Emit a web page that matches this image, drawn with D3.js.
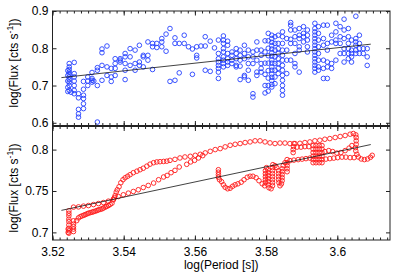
<!DOCTYPE html>
<html>
<head>
<meta charset="utf-8">
<script src="https://cdn.jsdelivr.net/npm/d3@7"></script>
<style>
  body { margin: 0; background: #fff; }
  svg { display: block; font-family: "Liberation Sans", Arial, sans-serif; }
</style>
</head>
<body>
<svg id="chart" width="395" height="272"></svg>
<script>
// axis ranges and tick labels
const periodDomain = [3.52, 3.6148];
const periodTicks = [3.52, 3.54, 3.56, 3.58, 3.6];
const topFluxDomain = [0.5927, 0.9];
const topFluxTicks = [0.6, 0.7, 0.8, 0.9];
const bottomFluxDomain = [0.6908, 0.8279];
const bottomFluxTicks = [0.7, 0.75, 0.8];

// linear fits (start, end)
const topFit = [[3.5225, 0.7212], [3.6094, 0.8110]];
const bottomFit = [[3.5225, 0.7266], [3.6094, 0.8061]];

// upper panel: log period -> list of log flux values seen at that period
const topCols = [
  [3.5243, [0.740, 0.727, 0.712, 0.695, 0.684]],
  [3.5247, [0.759, 0.750, 0.743, 0.736, 0.730, 0.723, 0.716, 0.709, 0.700, 0.687]],
  [3.5252, [0.682]],
  [3.5261, [0.762, 0.732, 0.723, 0.712, 0.700, 0.687, 0.678]],
  [3.5273, [0.678, 0.667, 0.636, 0.624, 0.615]],
  [3.5287, [0.711, 0.690, 0.674, 0.665, 0.651, 0.638]],
  [3.5299, [0.723, 0.712, 0.700]],
  [3.5311, [0.735, 0.719, 0.714, 0.709]],
  [3.5316, [0.712]],
  [3.5326, [0.748, 0.741, 0.700, 0.602]],
  [3.5339, [0.798, 0.788, 0.754, 0.714]],
  [3.5353, [0.806, 0.750, 0.727]],
  [3.5365, [0.746, 0.723, 0.711]],
  [3.5376, [0.772, 0.759, 0.746, 0.727]],
  [3.5390, [0.772, 0.768, 0.763]],
  [3.5404, [0.786, 0.777, 0.759, 0.741, 0.716]],
  [3.5418, [0.799, 0.777, 0.754]],
  [3.5432, [0.795, 0.759, 0.741]],
  [3.5444, [0.808, 0.763, 0.754]],
  [3.5455, [0.781, 0.777, 0.750]],
  [3.5468, [0.817, 0.781, 0.768]],
  [3.5481, [0.813, 0.804, 0.743]],
  [3.5493, [0.813, 0.802]],
  [3.5507, [0.826, 0.817, 0.804]],
  [3.5519, [0.838, 0.792]],
  [3.5530, [0.853, 0.711]],
  [3.5544, [0.828, 0.813, 0.714]],
  [3.5556, [0.813, 0.734]],
  [3.5570, [0.835, 0.813]],
  [3.5582, [0.804]],
  [3.5593, [0.798, 0.730]],
  [3.5605, [0.804, 0.781, 0.774]],
  [3.5617, [0.806]],
  [3.5629, [0.831, 0.806, 0.741]],
  [3.5643, [0.819, 0.738]],
  [3.5655, [0.801]],
  [3.5666, [0.822, 0.786, 0.772, 0.763, 0.754, 0.746, 0.736, 0.719]],
  [3.5680, [0.833, 0.822, 0.813, 0.799, 0.790, 0.777, 0.768, 0.759, 0.750]],
  [3.5692, [0.819, 0.808, 0.786, 0.772, 0.763, 0.754]],
  [3.5704, [0.790, 0.781, 0.768, 0.759]],
  [3.5716, [0.799, 0.786, 0.772, 0.754, 0.750]],
  [3.5727, [0.795, 0.781, 0.768, 0.752, 0.716]],
  [3.5739, [0.808, 0.786, 0.772, 0.727, 0.723]],
  [3.5750, [0.795, 0.777, 0.759, 0.741, 0.714]],
  [3.5763, [0.790, 0.777, 0.759, 0.678, 0.669]],
  [3.5774, [0.817, 0.795, 0.768, 0.736, 0.727]],
  [3.5786, [0.795, 0.781, 0.759, 0.746, 0.736]],
  [3.5797, [0.820, 0.790, 0.760, 0.730, 0.700, 0.680]],
  [3.5806, [0.840, 0.820, 0.800, 0.780, 0.760, 0.740, 0.720, 0.700, 0.685]],
  [3.5816, [0.835, 0.826, 0.816, 0.807, 0.798, 0.788, 0.779, 0.769, 0.760, 0.750, 0.741, 0.731, 0.722, 0.713, 0.703, 0.696]],
  [3.5825, [0.831, 0.813, 0.795, 0.777, 0.759, 0.741, 0.723, 0.705]],
  [3.5834, [0.835, 0.813, 0.799, 0.786, 0.772, 0.759, 0.746, 0.732]],
  [3.5846, [0.844, 0.831, 0.813, 0.795, 0.781, 0.768, 0.754, 0.741, 0.727, 0.714, 0.700, 0.687, 0.674]],
  [3.5858, [0.826, 0.795, 0.768, 0.732]],
  [3.5869, [0.869, 0.862, 0.849, 0.824, 0.813, 0.768]],
  [3.5881, [0.849, 0.831, 0.813, 0.786, 0.759, 0.750]],
  [3.5893, [0.853, 0.835, 0.826, 0.804, 0.795, 0.736]],
  [3.5905, [0.858, 0.840, 0.831, 0.817]],
  [3.5916, [0.849, 0.835, 0.822, 0.804, 0.790]],
  [3.5937, [0.867, 0.853, 0.844, 0.835, 0.826, 0.817, 0.808, 0.799, 0.790, 0.781, 0.772, 0.763, 0.754, 0.746, 0.736]],
  [3.5947, [0.858, 0.840, 0.822, 0.804, 0.786, 0.768, 0.750, 0.741]],
  [3.5961, [0.862, 0.826, 0.808, 0.768, 0.746, 0.719]],
  [3.5972, [0.862, 0.813, 0.795, 0.763, 0.750, 0.719]],
  [3.5984, [0.835, 0.817, 0.759, 0.746]],
  [3.5996, [0.867, 0.844, 0.822, 0.813, 0.768]],
  [3.6008, [0.858, 0.831, 0.813, 0.786]],
  [3.6019, [0.878, 0.849, 0.826, 0.799, 0.786, 0.763]],
  [3.6031, [0.853, 0.831, 0.813, 0.799, 0.786, 0.772]],
  [3.6040, [0.822, 0.795, 0.786, 0.777, 0.763]],
  [3.6052, [0.886, 0.826, 0.817, 0.808, 0.795, 0.786]],
  [3.6062, [0.835, 0.813, 0.799, 0.786]],
  [3.6073, [0.799, 0.786]],
  [3.6084, [0.799, 0.777, 0.754]]
];

// lower panel: the looping track, [log period, log flux]
const bottomPoints = [
  // start columns
  [3.5244, 0.700], [3.5244, 0.704],
  [3.5246, 0.699], [3.5246, 0.702], [3.5246, 0.705], [3.5246, 0.709], [3.5246, 0.713],
  [3.5246, 0.716], [3.5246, 0.720], [3.5246, 0.723], [3.5246, 0.726],
  [3.5259, 0.701], [3.5259, 0.704], [3.5259, 0.707], [3.5259, 0.710], [3.5259, 0.714],
  // gentle lane
  [3.5259, 0.7305], [3.5273, 0.7308], [3.5287, 0.7317], [3.5301, 0.7324], [3.5315, 0.7336],
  [3.5329, 0.7348], [3.5343, 0.7360], [3.5357, 0.7377], [3.5371, 0.7402], [3.5385, 0.7433],
  [3.5399, 0.7454], [3.5413, 0.7474], [3.5427, 0.7494], [3.5441, 0.7515], [3.5455, 0.7542],
  [3.5469, 0.7567], [3.5484, 0.7596], [3.5498, 0.7636], [3.5512, 0.7669], [3.5522, 0.7688],
  [3.5533, 0.7721], [3.5544, 0.7749], [3.5556, 0.7790], [3.5577, 0.7822], [3.5588, 0.7851],
  [3.5599, 0.7870], [3.5610, 0.7899], [3.5622, 0.7927],
  // steep lane
  [3.5268, 0.7142], [3.5273, 0.7175], [3.5278, 0.7190], [3.5283, 0.7199], [3.5288, 0.7207],
  [3.5292, 0.7215], [3.5297, 0.7224], [3.5301, 0.7232], [3.5306, 0.7238], [3.5311, 0.7244],
  [3.5315, 0.7250], [3.5320, 0.7256], [3.5325, 0.7264], [3.5329, 0.7272], [3.5334, 0.7278],
  [3.5339, 0.7284], [3.5343, 0.7294], [3.5348, 0.7305], [3.5352, 0.7314], [3.5357, 0.7324],
  [3.5362, 0.7338], [3.5367, 0.7353], [3.5371, 0.7393], [3.5374, 0.7420], [3.5376, 0.7445],
  [3.5379, 0.7487], [3.5382, 0.7515], [3.5387, 0.7551], [3.5392, 0.7600], [3.5398, 0.7636],
  [3.5404, 0.7660], [3.5411, 0.7678], [3.5418, 0.7697], [3.5427, 0.7721], [3.5437, 0.7739],
  [3.5446, 0.7757], [3.5455, 0.7775], [3.5465, 0.7800], [3.5474, 0.7824], [3.5484, 0.7842],
  [3.5493, 0.7851], [3.5502, 0.7854], [3.5512, 0.7857], [3.5521, 0.7860],
  // upper arc
  [3.5530, 0.7870], [3.5544, 0.7882], [3.5558, 0.7899], [3.5572, 0.7911], [3.5587, 0.7919],
  [3.5601, 0.7931], [3.5615, 0.7943], [3.5629, 0.7960], [3.5643, 0.7979], [3.5657, 0.8000],
  [3.5671, 0.8012], [3.5685, 0.8033], [3.5699, 0.8052], [3.5713, 0.8064], [3.5727, 0.8073],
  [3.5741, 0.8085], [3.5755, 0.8093], [3.5769, 0.8106], [3.5783, 0.8106], [3.5797, 0.8093],
  [3.5811, 0.8081], [3.5825, 0.8073], [3.5839, 0.8079], [3.5853, 0.8079], [3.5867, 0.8073],
  [3.5881, 0.8073], [3.5895, 0.8076], [3.5909, 0.8085], [3.5923, 0.8093], [3.5937, 0.8106],
  [3.5951, 0.8113], [3.5965, 0.8125], [3.5979, 0.8133], [3.5994, 0.8146], [3.6008, 0.8158],
  [3.6022, 0.8170], [3.6036, 0.8186], [3.6045, 0.8194], [3.6052, 0.8178],
  // right drop and curl
  [3.6053, 0.8146], [3.6053, 0.8106], [3.6053, 0.8064], [3.6051, 0.8024], [3.6052, 0.7984],
  [3.6055, 0.7943], [3.6059, 0.7911], [3.6067, 0.7887], [3.6076, 0.7879], [3.6085, 0.7887],
  [3.6093, 0.7907], [3.6098, 0.7931],
  // lower knot
  [3.5666, 0.7757], [3.5666, 0.7727], [3.5666, 0.7697], [3.5666, 0.7666], [3.5669, 0.7636],
  [3.5675, 0.7612], [3.5680, 0.7575], [3.5685, 0.7545], [3.5692, 0.7527], [3.5699, 0.7533],
  [3.5706, 0.7557], [3.5713, 0.7575], [3.5721, 0.7587], [3.5730, 0.7606], [3.5738, 0.7636],
  [3.5747, 0.7666], [3.5755, 0.7678], [3.5763, 0.7678], [3.5772, 0.7660], [3.5780, 0.7624],
  [3.5789, 0.7587], [3.5796, 0.7563], [3.5798, 0.7600], [3.5798, 0.7636], [3.5798, 0.7672],
  [3.5798, 0.7709], [3.5798, 0.7745], [3.5801, 0.7782], [3.5805, 0.7757], [3.5805, 0.7721],
  [3.5805, 0.7684], [3.5805, 0.7648], [3.5805, 0.7612], [3.5805, 0.7575], [3.5808, 0.7539],
  [3.5814, 0.7527], [3.5818, 0.7563], [3.5818, 0.7600], [3.5818, 0.7636], [3.5818, 0.7672],
  [3.5818, 0.7709], [3.5818, 0.7745], [3.5818, 0.7782], [3.5819, 0.7818], [3.5825, 0.7806],
  [3.5830, 0.7782], [3.5835, 0.7745], [3.5835, 0.7709], [3.5835, 0.7672], [3.5835, 0.7636],
  [3.5836, 0.7600], [3.5839, 0.7563], [3.5843, 0.7587], [3.5845, 0.7624], [3.5845, 0.7660],
  [3.5845, 0.7697], [3.5845, 0.7733], [3.5845, 0.7769], [3.5848, 0.7806], [3.5853, 0.7842],
  [3.5859, 0.7879], [3.5859, 0.7842], [3.5859, 0.7806], [3.5859, 0.7769], [3.5859, 0.7733],
  // middle band
  [3.5867, 0.7867], [3.5878, 0.7873], [3.5890, 0.7879], [3.5901, 0.7885], [3.5912, 0.7891],
  [3.5923, 0.7897],
  [3.5876, 0.7964], [3.5876, 0.8000], [3.5877, 0.8036], [3.5878, 0.8073],
  [3.5887, 0.8030], [3.5898, 0.8030], [3.5909, 0.8036], [3.5920, 0.8036],
  [3.5932, 0.8049], [3.5932, 0.8006], [3.5932, 0.7964], [3.5932, 0.7921], [3.5932, 0.7879], [3.5932, 0.7842],
  [3.5940, 0.8049], [3.5940, 0.8006], [3.5940, 0.7964], [3.5940, 0.7921], [3.5940, 0.7879], [3.5940, 0.7842],
  [3.5949, 0.8049], [3.5949, 0.8006], [3.5949, 0.7964], [3.5949, 0.7921], [3.5949, 0.7879], [3.5949, 0.7842],
  [3.5957, 0.8049], [3.5957, 0.8006], [3.5957, 0.7964], [3.5957, 0.7921], [3.5957, 0.7879], [3.5957, 0.7842],
  [3.5965, 0.7976], [3.5976, 0.7988], [3.5987, 0.7976], [3.5999, 0.7958], [3.6010, 0.7964],
  [3.6022, 0.7988], [3.6033, 0.8018], [3.6041, 0.8049],
  [3.5968, 0.7885], [3.5979, 0.7891], [3.5990, 0.7897], [3.6001, 0.7903], [3.6013, 0.7909],
  [3.6024, 0.7909], [3.6036, 0.7903], [3.6047, 0.7903]
];

const topPoints = topCols.flatMap(([p, fs]) => fs.map(f => [p, f]));

const svg = d3.select('#chart');
const left = 52.5, right = 390;
const x = d3.scaleLinear().domain(periodDomain).range([left, right]);
const minorPeriods = d3.range(0, 48).map(i => +(3.52 + i * 0.002).toFixed(3));
const fmt = d => String(+d.toFixed(2));

const drawPanel = (opts) => {
  const g = svg.append('g');
  const y = d3.scaleLinear().domain(opts.domain).range([opts.bottom, opts.top]);

  g.append('g')
    .selectAll('circle')
    .data(opts.points)
    .join('circle')
    .attr('cx', d => x(d[0]))
    .attr('cy', d => y(d[1]))
    .attr('r', 2.3)
    .attr('fill', 'none')
    .attr('stroke', opts.color)
    .attr('stroke-width', 0.9);

  g.append('path')
    .datum(opts.fit)
    .attr('d', d3.line().x(d => x(d[0])).y(d => y(d[1])))
    .attr('fill', 'none')
    .attr('stroke', '#111')
    .attr('stroke-width', 0.8);

  // inward ticks on all four sides, labels only left (and bottom if asked)
  const addAxis = (axis, tx, ty) => {
    g.append('g')
      .attr('transform', `translate(${tx},${ty})`)
      .call(axis)
      .call(a => a.select('.domain').remove())
      .call(a => a.selectAll('line').attr('stroke', '#222'))
      .call(a => a.selectAll('text').attr('fill', '#000').style('font-size', '12px'));
  };

  if (opts.xLabels) {
    addAxis(d3.axisBottom(x).tickValues(periodTicks).tickSizeInner(-4.5).tickSizeOuter(0)
      .tickPadding(7).tickFormat(fmt), 0, opts.bottom);
  } else {
    addAxis(d3.axisBottom(x).tickValues(periodTicks).tickSizeInner(-4.5).tickSizeOuter(0)
      .tickFormat(''), 0, opts.bottom);
  }
  addAxis(d3.axisBottom(x).tickValues(minorPeriods).tickSizeInner(-2.5).tickSizeOuter(0)
    .tickFormat(''), 0, opts.bottom);
  addAxis(d3.axisTop(x).tickValues(periodTicks).tickSizeInner(-4.5).tickSizeOuter(0)
    .tickFormat(''), 0, opts.top);
  addAxis(d3.axisTop(x).tickValues(minorPeriods).tickSizeInner(-2.5).tickSizeOuter(0)
    .tickFormat(''), 0, opts.top);
  addAxis(d3.axisLeft(y).tickValues(opts.yTicks).tickSizeInner(-4).tickSizeOuter(0)
    .tickPadding(4).tickFormat(fmt), left, 0);
  addAxis(d3.axisRight(y).tickValues(opts.yTicks).tickSizeInner(-4).tickSizeOuter(0)
    .tickFormat(''), right, 0);

  // blank tick texts carry no glyphs, drop them
  g.selectAll('.tick text').filter(function() { return this.textContent === ''; }).remove();

  g.append('rect')
    .attr('x', left)
    .attr('y', opts.top)
    .attr('width', right - left)
    .attr('height', opts.bottom - opts.top)
    .attr('fill', 'none')
    .attr('stroke', '#222')
    .attr('stroke-width', 1);

  const label = g.append('text')
    .attr('transform', `translate(18,${opts.labelY}) rotate(-90)`)
    .attr('text-anchor', 'middle')
    .style('font-size', '12px')
    .attr('fill', '#000');
  label.append('tspan').text('log(Flux [cts s');
  label.append('tspan').attr('baseline-shift', 'super').style('font-size', '8.5px').text('-1');
  label.append('tspan').text('])');
};

drawPanel({
  points: topPoints, color: '#2440ff', fit: topFit,
  domain: topFluxDomain, yTicks: topFluxTicks,
  top: 11, bottom: 125.5, labelY: 63, xLabels: false
});

drawPanel({
  points: bottomPoints, color: '#ff1a1a', fit: bottomFit,
  domain: bottomFluxDomain, yTicks: bottomFluxTicks,
  top: 126.5, bottom: 240, labelY: 188, xLabels: true
});

svg.append('text')
  .attr('x', (left + right) / 2)
  .attr('y', 269)
  .attr('text-anchor', 'middle')
  .style('font-size', '12px')
  .text('log(Period [s])');
</script>
</body>
</html>
